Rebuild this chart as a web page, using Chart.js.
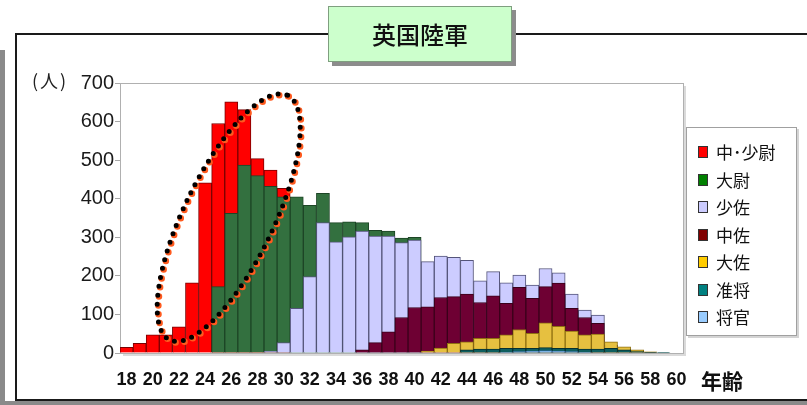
<!DOCTYPE html>
<html>
<head>
<meta charset="utf-8">
<script src="https://cdn.jsdelivr.net/npm/chart.js@4.4.1/dist/chart.umd.min.js"></script>
<style>
  body { margin: 0; width: 807px; height: 405px; overflow: hidden; background: #fff; position: relative;
         font-family: 'Noto Sans CJK JP', 'Noto Sans', sans-serif; }
  #leftbar { position: absolute; left: 0; top: 50px; width: 5px; height: 355px; background: #8a8a8a; }
  #bottombar { position: absolute; left: 0; top: 401px; width: 807px; height: 4px; background: #8a8a8a; }
  #frame { position: absolute; left: 15px; top: 33px; width: 830px; height: 368px; box-sizing: border-box;
           border: 2px solid #1a1a1a; }
  #c { position: absolute; left: 0; top: 0; }
  #title { position: absolute; left: 328px; top: 6px; width: 184px; height: 56px; box-sizing: border-box;
           background: #ccffcc; border: 1px solid #7f9f7f; box-shadow: 4px 4px 0 #8c8c8c;
           font-size: 24px; font-weight: 500; line-height: 54px; text-align: center; color: #111; }
  #unit { position: absolute; left: 32px; top: 67px; font-size: 18px; letter-spacing: 2px; color: #222; }
  #xname { position: absolute; left: 701px; top: 365px; font-size: 21px; font-weight: bold; color: #111; }
  #legend { position: absolute; left: 686px; top: 127px; width: 111px; height: 209px; box-sizing: border-box;
            border: 1px solid #a0a0a0; box-shadow: 2px 2px 0 #d4d4d4; background: #fff; }
  .item { position: absolute; left: 11px; font-size: 17px; line-height: 20px; color: #111; white-space: nowrap; }
  .sw { display: inline-block; width: 8px; height: 10px; border: 1px solid #333; margin-right: 8px; vertical-align: 1px; }
</style>
</head>
<body>
<div id="leftbar"></div>
<div id="bottombar"></div>
<div id="frame"></div>
<canvas id="c" width="807" height="405"></canvas>
<div id="title">英国陸軍</div>
<div id="unit">(人)</div>
<div id="xname">年齢</div>
<div id="legend"></div>
<script>
// ages 18..60, one bar per year
const ages = [18,19,20,21,22,23,24,25,26,27,28,29,30,31,32,33,34,35,36,37,38,
              39,40,41,42,43,44,45,46,47,48,49,50,51,52,53,54,55,56,57,58,59,60];
const yTicks = [0,100,200,300,400,500,600,700];

// headcount per age
const lieutenants = [15,25,47,47,68,182,441,595,651,631,504,474,427,0,0,0,0,0,0,0,0,
                     0,0,0,0,0,0,0,0,0,0,0,0,0,0,0,0,0,0,0,0,0,0];
const captains    = [0,0,0,0,0,0,0,172,362,487,460,432,405,405,383,414,338,340,338,318,316,
                     298,300,0,0,0,0,0,0,0,0,0,0,0,0,0,0,0,0,0,0,0,0];
const majors      = [0,0,0,0,0,0,0,0,0,0,0,5,27,116,198,338,288,301,316,303,303,
                     286,293,237,251,248,240,187,211,182,202,176,219,208,153,111,98,0,0,0,0,0,0];
const ltColonels  = [0,0,0,0,0,0,0,0,0,0,0,0,0,0,0,0,0,0,8,27,55,
                     92,118,120,144,146,153,131,148,129,170,142,172,181,116,92,77,20,10,5,2,0,0];
const colonels    = [0,0,0,0,0,0,0,0,0,0,0,0,0,0,0,0,0,0,0,0,0,
                     0,0,5,13,25,29,38,38,47,61,51,78,69,57,47,49,29,16,8,3,0,0];
const brigadiers  = [0,0,0,0,0,0,0,0,0,0,0,0,0,0,0,0,0,0,0,0,0,
                     0,0,0,0,0,8,10,10,12,12,12,14,12,12,10,10,12,8,4,2,1,0];
const generals    = [0,0,0,0,0,0,0,0,0,0,0,0,0,0,0,0,0,0,0,0,0,
                     0,0,0,0,0,0,0,0,2,4,5,6,5,4,2,0,0,0,0,0,0,0];

const seriesNames = ['中･少尉','大尉','少佐','中佐','大佐','准将','将官'];
const seriesData = [lieutenants, captains, majors, ltColonels, colonels, brigadiers, generals];
const barColors = ['#ff0000','#33703f','#ccccff','#6e0033','#e6c040','#0f5f5f','#99ccff'];
const barEdges  = ['#7a0000','#1d4526','#55557a','#3a001a','#8f7010','#063030','#336699'];
const keyColors = ['#ff0000','#008000','#ccccff','#800000','#ffcc00','#008080','#99ccff'];

// dotted ring around the young-officer peak: axis ends in (age, value), half width in px
const ringFrom = [21.3, 34];
const ringTo = [30.3, 668];
const ringHalfWidth = 45;

const legend = document.getElementById('legend');
seriesNames.forEach((name, i) => {
    const el = document.createElement('div');
    el.className = 'item';
    el.style.top = (14 + i * 27.5) + 'px';
    el.innerHTML = `<span class="sw" style="background:${keyColors[i]}"></span>${name}`;
    legend.appendChild(el);
});

const plotDecor = {
    id: 'plotDecor',
    beforeDatasetsDraw(chart) {
        const { ctx, chartArea: a } = chart;
        ctx.save();
        ctx.strokeStyle = '#dadada';
        ctx.lineWidth = 2;
        ctx.beginPath();
        ctx.moveTo(a.right + 2, a.top + 3);
        ctx.lineTo(a.right + 2, a.bottom + 2);
        ctx.lineTo(a.left + 3, a.bottom + 2);
        ctx.stroke();
        ctx.strokeStyle = '#b0b0b0';
        ctx.lineWidth = 1;
        ctx.strokeRect(a.left + 0.5, a.top + 0.5, a.right - a.left, a.bottom - a.top);
        ctx.restore();
    },
    afterDatasetsDraw(chart) {
        const { ctx, scales } = chart;
        const x1 = scales.x.getPixelForValue(ringFrom[0] - ages[0]);
        const y1 = scales.y.getPixelForValue(ringFrom[1]);
        const x2 = scales.x.getPixelForValue(ringTo[0] - ages[0]);
        const y2 = scales.y.getPixelForValue(ringTo[1]);
        const cx = (x1 + x2) / 2, cy = (y1 + y2) / 2;
        const rx = Math.hypot(x2 - x1, y2 - y1) / 2;
        const ang = Math.atan2(y2 - y1, x2 - x1);
        ctx.save();
        ctx.lineCap = 'round';
        ctx.setLineDash([0, 9]);
        ctx.beginPath();
        ctx.ellipse(cx + 1.2, cy + 1.2, rx, ringHalfWidth, ang, 0, Math.PI * 2);
        ctx.lineWidth = 6.5;
        ctx.strokeStyle = '#ff5a1e';
        ctx.stroke();
        ctx.beginPath();
        ctx.ellipse(cx, cy, rx, ringHalfWidth, ang, 0, Math.PI * 2);
        ctx.lineWidth = 5;
        ctx.strokeStyle = '#000';
        ctx.stroke();
        ctx.restore();
    }
};

const sans = "'Liberation Sans', Arial, sans-serif";

new Chart(document.getElementById('c'), {
    type: 'bar',
    data: {
        labels: ages,
        datasets: seriesData.map((d, i) => ({
            label: seriesNames[i],
            data: d,
            backgroundColor: barColors[i],
            borderColor: barEdges[i],
            borderWidth: 1,
            order: seriesData.length - i,
            grouped: false,
            barPercentage: 1,
            categoryPercentage: 1
        }))
    },
    options: {
        responsive: false,
        animation: false,
        events: [],
        layout: { padding: { top: 83, right: 124, bottom: 12, left: 0 } },
        plugins: { legend: { display: false }, tooltip: { enabled: false } },
        scales: {
            x: {
                grid: { display: false, drawTicks: false },
                border: { display: false },
                afterFit: s => { s.height = 40; },
                ticks: {
                    autoSkip: false, maxRotation: 0, padding: 16,
                    color: '#111',
                    font: { family: sans, size: 18, weight: 'bold' },
                    callback: (v, i) => ages[i] % 2 === 0 ? ages[i] : ''
                }
            },
            y: {
                min: 0, max: 700,
                grid: { drawOnChartArea: false, tickLength: 5, color: '#a8a8a8' },
                border: { display: false },
                afterFit: s => { s.width = 120; },
                afterBuildTicks: s => { s.ticks = yTicks.map(v => ({ value: v })); },
                ticks: {
                    padding: 1,
                    color: '#1a1a1a',
                    font: { family: sans, size: 20 }
                }
            }
        }
    },
    plugins: [plotDecor]
});
</script>
</body>
</html>
